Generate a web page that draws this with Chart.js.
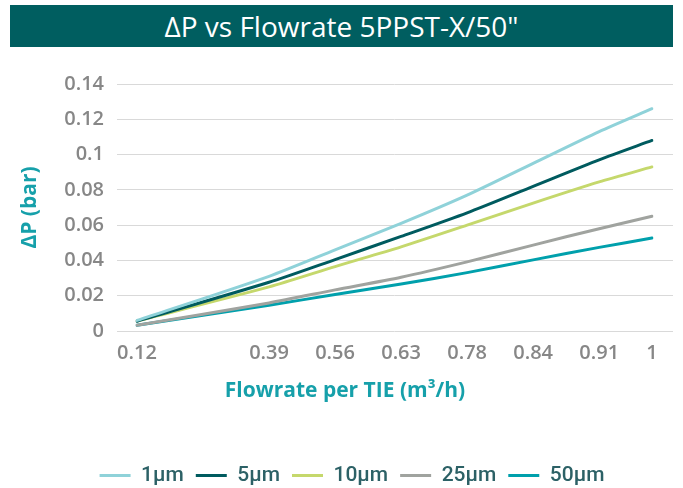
<!DOCTYPE html>
<html><head><meta charset="utf-8">
<script src="https://cdn.jsdelivr.net/npm/chart.js@4"></script>
<style>
html,body{margin:0;padding:0;background:#fff;overflow:hidden}
#wrap{position:relative;width:683px;height:488px}
#banner{position:absolute;left:10px;top:5px;width:663px;height:42px;background:#005e60;color:#fff;font-family:'Liberation Sans Narrow','Open Sans',sans-serif;font-size:28px;line-height:42px;text-align:center}
#xt{position:absolute;left:145px;width:400px;top:375px;text-align:center;color:#16a0aa;font:bold 21px 'Open Sans',sans-serif}
canvas{position:absolute;left:0;top:0}
</style></head>
<body><div id="wrap"><canvas id="c" width="683" height="488"></canvas><div id="banner">ΔP vs Flowrate 5PPST-X/50"</div><div id="xt">Flowrate per TIE (m³/h)</div></div>
<script>
const flowLabels = ['0.12','0.39','0.56','0.63','0.78','0.84','0.91','1'];
const slotGaps = [10,5,5,5,5,5,4];
const seriesNames = ['1μm','5μm','10μm','25μm','50μm'];
const dp1um  = [0.006,  0.031,  0.046,  0.061,  0.077,  0.095,  0.113,  0.126];
const dp5um  = [0.0055, 0.0276, 0.0405, 0.0536, 0.067,  0.082,  0.097,  0.108];
const dp10um = [0.0057, 0.025,  0.0365, 0.0477, 0.060,  0.0725, 0.0845, 0.093];
const dp25um = [0.0033, 0.0159, 0.0233, 0.0305, 0.0392, 0.0487, 0.058,  0.065];
const dp50um = [0.0033, 0.0146, 0.0207, 0.0266, 0.0331, 0.0403, 0.0474, 0.0527];
const colors = ['#8fd2d9','#005b5f','#c5d86c','#a0a39f','#00a0ac'];

const xCats = [];
flowLabels.forEach((l,i)=>{ xCats.push(l); const g = slotGaps[i]||0; for(let k=1;k<g;k++) xCats.push(''); });
const allSeries = [dp1um, dp5um, dp10um, dp25um, dp50um];
const datasets = allSeries.map((vals,s)=>({
  label: seriesNames[s],
  data: vals.map((v,i)=>({x: flowLabels[i], y: v})),
  borderColor: colors[s],
  backgroundColor: colors[s],
  borderWidth: 3,
  pointRadius: 0,
  tension: 0.25,
  fill: false
}));
const tickFont = {family:'Open Sans', size:20, weight:'600'};
new Chart(document.getElementById('c'), {
  type:'line',
  data:{labels:xCats, datasets},
  options:{
    responsive:false, animation:false, devicePixelRatio:1,
    layout:{padding:{top:84,left:31,right:10,bottom:-8}},
    elements:{line:{borderCapStyle:'round'}},
    plugins:{
      legend:{position:'bottom', labels:{usePointStyle:true, pointStyle:'line', pointStyleWidth:31, padding:12, color:'#2c6166', font:{family:'Roboto', size:21, weight:'500'}}},
      tooltip:{enabled:false}, title:{display:false}
    },
    scales:{
      x:{type:'category', offset:false, grid:{display:false, drawTicks:false}, border:{display:false},
         ticks:{autoSkip:false, maxRotation:0, minRotation:0, padding:10, color:'#878787', font:tickFont},
         afterFit:s=>{s.height=122;}},
      y:{position:'left', min:0, max:0.14,
         ticks:{stepSize:0.02, padding:13, color:'#878787', font:tickFont, callback:v=>String(+Number(v).toFixed(2))},
         grid:{color:'#d9d9d9', lineWidth:1, drawTicks:true, tickLength:20, tickColor:'#d9d9d9'},
         border:{display:false},
         title:{display:true, text:'ΔP (bar)', color:'#16a0aa', font:{family:'Open Sans', size:21, weight:'bold'}, padding:{top:-14,bottom:0}},
         afterFit:s=>{s.width=106;}},
      y2:{position:'right', min:0, max:0.14, ticks:{display:false, stepSize:0.02},
         grid:{drawOnChartArea:false, drawTicks:true, tickLength:21, color:'#d9d9d9'},
         border:{display:false}, afterFit:s=>{s.width=21;}}
    }
  }
});
</script>
</body></html>
